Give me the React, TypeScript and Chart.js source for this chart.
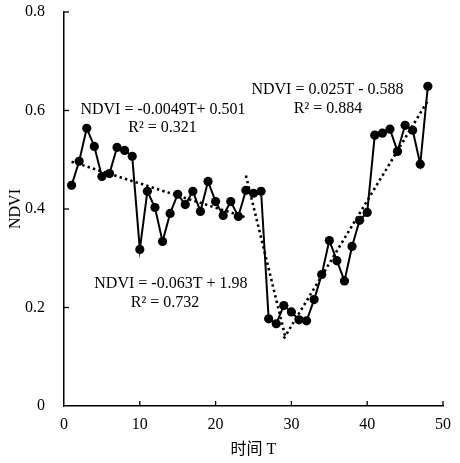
import React, { useEffect, useRef } from "react";
import { Chart, registerables } from "chart.js";

Chart.register(...registerables);

const T_VALUES = [
  1, 2, 3, 4, 5, 6, 7, 8, 9, 10, 11, 12, 13, 14, 15, 16, 17, 18, 19, 20, 21, 22, 23, 24,
  25, 26, 27, 28, 29, 30, 31, 32, 33, 34, 35, 36, 37, 38, 39, 40, 41, 42, 43, 44, 45, 46, 47, 48,
];
const NDVI_VALUES = [
  0.448, 0.497, 0.564, 0.527, 0.466, 0.472, 0.525, 0.519, 0.507, 0.318, 0.436, 0.403,
  0.334, 0.391, 0.430, 0.409, 0.436, 0.395, 0.456, 0.415, 0.387, 0.415, 0.385, 0.438,
  0.432, 0.436, 0.177, 0.167, 0.204, 0.191, 0.175, 0.173, 0.216, 0.267, 0.336, 0.295,
  0.254, 0.324, 0.377, 0.393, 0.550, 0.554, 0.562, 0.517, 0.570, 0.560, 0.491, 0.649,
];

// trend line end points
const TREND1_T = [1, 24];
const TREND1_V = [0.496, 0.383];
const TREND2_T = [24, 29.2];
const TREND2_V = [0.468, 0.14];
const TREND3_T = [29, 48];
const TREND3_V = [0.137, 0.62];

const EQUATIONS = ["NDVI = -0.0049T+ 0.501", "NDVI = 0.025T - 0.588", "NDVI = -0.063T + 1.98"];
const R_SQUARED = ["R² = 0.321", "R² = 0.884", "R² = 0.732"];

const X_TICKS = [0, 10, 20, 30, 40, 50];
const Y_TICKS = [0, 0.2, 0.4, 0.6, 0.8];

const X_TITLE = "时间 T";
const Y_TITLE = "NDVI";

const FONT = '"Liberation Serif", "Times New Roman", "Noto Sans CJK SC", serif';

// anchor positions (data coordinates) of the equation labels
const LABEL_ANCHORS = [
  { eq: [13.06, 0.601], r2: [12.99, 0.564] },
  { eq: [34.76, 0.642], r2: [34.83, 0.603] },
  { eq: [14.1, 0.248], r2: [13.33, 0.209] },
];

const toPts = (xs: number[], ys: number[]) => xs.map((x, i) => ({ x, y: ys[i] }));

const decorPlugin = {
  id: "decor",
  afterDraw(chart: any) {
    const ctx = chart.ctx;
    const xs = chart.scales.x;
    const ys = chart.scales.y;
    const area = chart.chartArea;
    ctx.save();
    ctx.strokeStyle = "#000";
    ctx.lineWidth = 1.3;
    // inward ticks
    X_TICKS.forEach((v) => {
      if (v === 0) return;
      const px = xs.getPixelForValue(v);
      ctx.beginPath();
      ctx.moveTo(px, area.bottom);
      ctx.lineTo(px, area.bottom - 5);
      ctx.stroke();
    });
    Y_TICKS.forEach((v) => {
      if (v === 0) return;
      const py = ys.getPixelForValue(v);
      ctx.beginPath();
      ctx.moveTo(area.left, py);
      ctx.lineTo(area.left + 5, py);
      ctx.stroke();
    });
    // equation labels
    ctx.fillStyle = "#000";
    ctx.font = `16px ${FONT}`;
    ctx.textAlign = "center";
    ctx.textBaseline = "middle";
    LABEL_ANCHORS.forEach((a, i) => {
      ctx.fillText(EQUATIONS[i], xs.getPixelForValue(a.eq[0]), ys.getPixelForValue(a.eq[1]));
      ctx.fillText(R_SQUARED[i], xs.getPixelForValue(a.r2[0]), ys.getPixelForValue(a.r2[1]));
    });
    ctx.restore();
  },
};

export default function App() {
  const ref = useRef<HTMLCanvasElement | null>(null);
  useEffect(() => {
    document.body.style.margin = "0";
    const canvas = ref.current;
    if (!canvas) return;
    const trendStyle = {
      borderColor: "#000",
      borderWidth: 2.6,
      borderDash: [2.4, 3.2],
      pointRadius: 0,
      showLine: true,
      fill: false,
    };
    const chart = new Chart(canvas, {
      type: "scatter",
      data: {
        datasets: [
          { ...trendStyle, data: toPts(TREND1_T, TREND1_V) },
          { ...trendStyle, data: toPts(TREND2_T, TREND2_V) },
          { ...trendStyle, data: toPts(TREND3_T, TREND3_V) },
          {
            data: toPts(T_VALUES, NDVI_VALUES),
            showLine: true,
            borderColor: "#000",
            borderWidth: 2,
            backgroundColor: "#000",
            pointBackgroundColor: "#000",
            pointBorderColor: "#000",
            pointRadius: 4.6,
            pointBorderWidth: 0,
          },
        ],
      },
      options: {
        animation: false,
        responsive: false,
        devicePixelRatio: 1,
        layout: { padding: { left: 0, right: 17, top: 12, bottom: 0 } },
        plugins: { legend: { display: false }, tooltip: { enabled: false } },
        scales: {
          x: {
            type: "linear",
            min: 0,
            max: 50,
            afterBuildTicks: (s: any) => {
              s.ticks = X_TICKS.map((v) => ({ value: v }));
            },
            afterFit: (s: any) => {
              s.height = 57;
              s.paddingLeft = 0;
              s.paddingRight = 0;
            },
            grid: { display: false, drawTicks: false },
            border: { display: true, color: "#000", width: 1.5 },
            ticks: { color: "#000", font: { family: FONT, size: 16 }, padding: 9, maxRotation: 0 },
            title: {
              display: true,
              text: X_TITLE,
              color: "#000",
              font: { family: FONT, size: 16 },
              padding: { top: 0, bottom: 4 },
            },
          },
          y: {
            type: "linear",
            min: 0,
            max: 0.8,
            afterBuildTicks: (s: any) => {
              s.ticks = Y_TICKS.map((v) => ({ value: v }));
            },
            afterFit: (s: any) => {
              s.width = 64;
              s.paddingTop = 0;
              s.paddingBottom = 0;
            },
            grid: { display: false, drawTicks: false },
            border: { display: true, color: "#000", width: 1.5 },
            ticks: {
              color: "#000",
              font: { family: FONT, size: 16 },
              padding: 19,
              callback: (v: any) => String(Math.round(Number(v) * 10) / 10),
            },
            title: {
              display: true,
              text: Y_TITLE,
              color: "#000",
              font: { family: FONT, size: 16 },
              padding: { top: 6, bottom: 0 },
            },
          },
        },
      },
      plugins: [decorPlugin],
    });
    return () => chart.destroy();
  }, []);
  return (
    <div style={{ width: 460, height: 463, background: "#fff" }}>
      <canvas ref={ref} width={460} height={463} />
    </div>
  );
}
